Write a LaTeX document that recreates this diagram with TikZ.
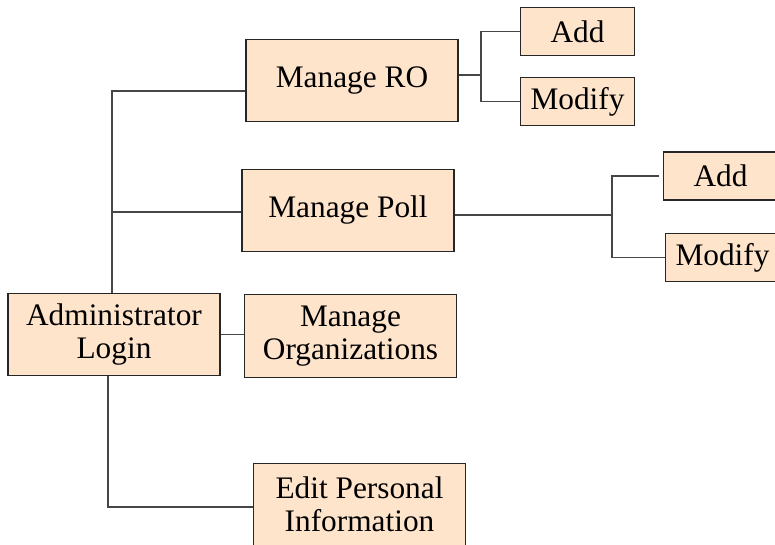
\documentclass[tikz,border=0pt]{standalone}
\usepackage{fontspec}
\setmainfont{Liberation Serif}
\usepackage{tikz, xcolor}
\usetikzlibrary{positioning}
\definecolor{peach}{RGB}{255,228,204}
\definecolor{wire}{RGB}{70,70,70}

\begin{document}
\begin{tikzpicture}[x=0.75pt,y=-0.75pt,
  box/.style={draw=black!85,fill=peach,line width=0.8pt,inner sep=0pt,align=center,
    minimum width=159pt,minimum height=62pt,font=\fontsize{23.5}{25}\selectfont},
  smallbox/.style={box,minimum width=85pt,minimum height=36pt},
  link/.style={draw=wire,line width=1pt}]
\clip (0,0) rectangle (775,544);
\node[box] (admin) at (114,334.5) {Administrator\\Login};
\node[box] (ro) at (352,80.5) {Manage RO};
\node[box] (poll) at (348,210.5) {Manage Poll};
\node[box] (orgs) at (350.5,336) {Manage\\Organizations};
\node[box] (edit) at (359.5,504.5) {Edit Personal\\Information};
\node[smallbox] (roadd) at (577.5,31.5) {Add};
\node[smallbox] (romod) at (577.5,101.5) {Modify};
\node[smallbox] (polladd) at (720.5,176) {Add};
\node[smallbox] (pollmod) at (722.5,257.5) {Modify};
% joints
\coordinate (trunk) at (112,91);
\coordinate (pollj) at (112,212);
\coordinate (editj) at (108,507);
\coordinate (rofork) at (481,75);
\coordinate (pollfork) at (612,215);
\draw[link] (admin.north -| trunk) -- (trunk) -- (trunk -| ro.west);
\draw[link] (pollj) -- (pollj -| poll.west);
\draw[link] (admin.east) -- (admin.east -| orgs.west);
\draw[link] (admin.south -| editj) -- (editj) -- (editj -| edit.west);
\draw[link] (rofork -| ro.east) -- (rofork);
\draw[link] (roadd.west) -| (rofork) |- (romod.west);
\draw[link] (pollfork -| poll.east) -- (pollfork);
\draw[link,shorten <=3pt] (polladd.west) -| (pollfork) |- (pollmod.west);
\end{tikzpicture}
\end{document}
